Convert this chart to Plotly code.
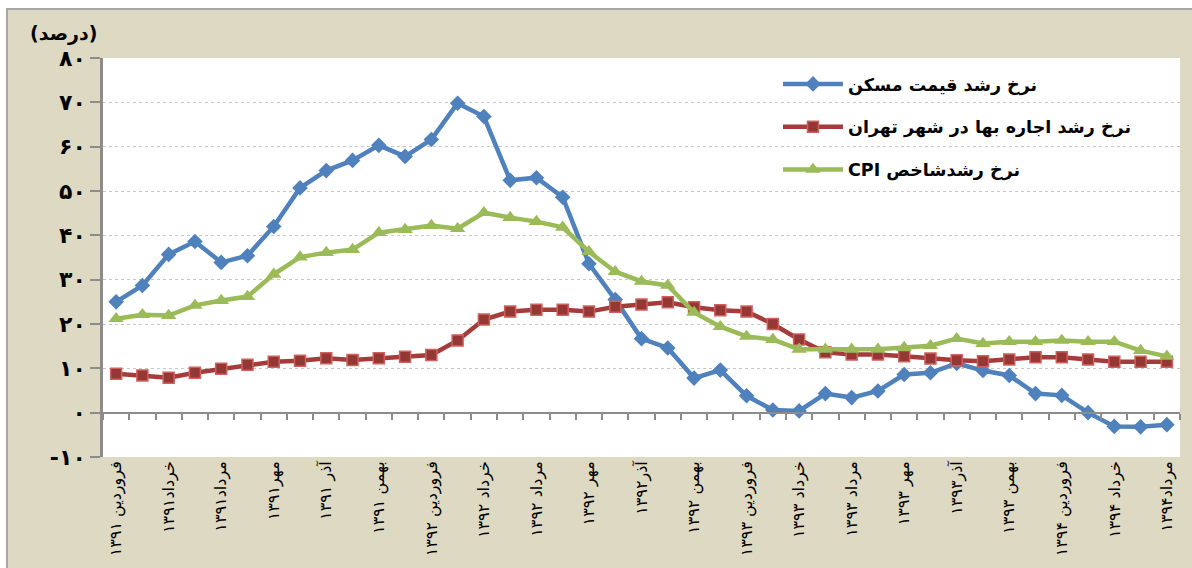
import plotly.graph_objects as go

# ---------------- data ----------------
months = [
    "فروردین ۱۳۹۱", "اردیبهشت ۱۳۹۱", "خرداد ۱۳۹۱", "تیر ۱۳۹۱", "مرداد ۱۳۹۱", "شهریور ۱۳۹۱",
    "مهر ۱۳۹۱", "آبان ۱۳۹۱", "آذر ۱۳۹۱", "دی ۱۳۹۱", "بهمن ۱۳۹۱", "اسفند ۱۳۹۱",
    "فروردین ۱۳۹۲", "اردیبهشت ۱۳۹۲", "خرداد ۱۳۹۲", "تیر ۱۳۹۲", "مرداد ۱۳۹۲", "شهریور ۱۳۹۲",
    "مهر ۱۳۹۲", "آبان ۱۳۹۲", "آذر ۱۳۹۲", "دی ۱۳۹۲", "بهمن ۱۳۹۲", "اسفند ۱۳۹۲",
    "فروردین ۱۳۹۳", "اردیبهشت ۱۳۹۳", "خرداد ۱۳۹۳", "تیر ۱۳۹۳", "مرداد ۱۳۹۳", "شهریور ۱۳۹۳",
    "مهر ۱۳۹۳", "آبان ۱۳۹۳", "آذر ۱۳۹۳", "دی ۱۳۹۳", "بهمن ۱۳۹۳", "اسفند ۱۳۹۳",
    "فروردین ۱۳۹۴", "اردیبهشت ۱۳۹۴", "خرداد ۱۳۹۴", "تیر ۱۳۹۴", "مرداد ۱۳۹۴",
]

tick_labels = [
    "فروردین ۱۳۹۱", "خرداد۱۳۹۱", "مرداد۱۳۹۱", "مهر۱۳۹۱", "آذر ۱۳۹۱", "بهمن ۱۳۹۱",
    "فروردین ۱۳۹۲", "خرداد ۱۳۹۲", "مرداد ۱۳۹۲", "مهر ۱۳۹۲", "آذر۱۳۹۲", "بهمن ۱۳۹۲",
    "فروردین ۱۳۹۳", "خرداد ۱۳۹۳", "مرداد ۱۳۹۳", "مهر ۱۳۹۳", "آذر۱۳۹۳", "بهمن ۱۳۹۳",
    "فروردین ۱۳۹۴", "خرداد ۱۳۹۴", "مرداد۱۳۹۴",
]

housing_price_growth = [
    25.0, 28.7, 35.7, 38.6, 33.9, 35.4, 42.0, 50.7, 54.6, 56.9, 60.3, 57.8,
    61.6, 69.8, 66.8, 52.4, 53.0, 48.6, 33.6, 25.5, 16.7, 14.6, 7.8, 9.6,
    3.8, 0.6, 0.4, 4.3, 3.4, 4.9, 8.6, 9.0, 11.1, 9.5, 8.4, 4.3,
    3.9, 0.0, -3.1, -3.2, -2.7,
]

tehran_rent_growth = [
    8.8, 8.4, 7.9, 9.0, 9.9, 10.8, 11.5, 11.7, 12.3, 11.9, 12.3, 12.6,
    13.0, 16.3, 21.0, 22.8, 23.2, 23.2, 22.8, 23.9, 24.4, 24.9, 23.8, 23.1,
    22.8, 20.0, 16.5, 13.6, 13.1, 13.1, 12.7, 12.2, 11.8, 11.6, 12.0, 12.5,
    12.5, 12.0, 11.5, 11.5, 11.5,
]

cpi_growth = [
    21.2, 22.1, 21.9, 24.2, 25.3, 26.2, 31.2, 35.1, 36.1, 36.8, 40.6, 41.3,
    42.2, 41.5, 45.1, 44.0, 43.1, 41.8, 36.3, 31.8, 29.6, 28.7, 22.6, 19.4,
    17.2, 16.5, 14.3, 14.3, 14.3, 14.3, 14.7, 15.1, 16.7, 15.6, 16.0, 16.0,
    16.3, 16.0, 16.0, 14.0, 12.7,
]

series_names = [
    "نرخ رشد قیمت مسکن",
    "نرخ رشد اجاره بها در شهر تهران",
    "\u202bنرخ رشدشاخص CPI\u202c",
]

y_tick_values = [-10, 0, 10, 20, 30, 40, 50, 60, 70, 80]
y_tick_text = ["-۱۰", "۰", "۱۰", "۲۰", "۳۰", "۴۰", "۵۰", "۶۰", "۷۰", "۸۰"]
y_title = "(درصد)"

# ---------------- figure ----------------
W, H = 1192, 568
ML, MR, MT, MB = 103, 12, 58, 111
PW, PH = W - ML - MR, H - MT - MB

def px_x(p):
    return (p - ML) / PW

def px_y(p):
    return (H - MB - p) / PH

x_idx = list(range(len(months)))
FONT = "DejaVu Sans"
BEIGE = "#DDD9C3"

fig = go.Figure()

fig.add_trace(go.Scatter(
    x=x_idx, y=housing_price_growth, name=series_names[0], mode="lines+markers",
    text=months, legendgroup="a",
    line=dict(color="#4F81BD", width=4.5),
    marker=dict(symbol="diamond", size=12, color="#4F81BD", line=dict(width=0)),
))
fig.add_trace(go.Scatter(
    x=x_idx, y=tehran_rent_growth, name=series_names[1], mode="lines+markers",
    text=months, legendgroup="b",
    line=dict(color="#A33C3A", width=4.5),
    marker=dict(symbol="square", size=11, color="#953735", line=dict(width=1.5, color="#D0605C")),
))
fig.add_trace(go.Scatter(
    x=x_idx, y=cpi_growth, name=series_names[2], mode="lines+markers",
    text=months, legendgroup="c",
    line=dict(color="#9BBB59", width=4.5),
    marker=dict(symbol="triangle-up", size=13.5, color="#9BBB59", line=dict(width=0)),
))
# carrier trace for the zero-line category axis
fig.add_trace(go.Scatter(x=[], y=[], xaxis="x2", yaxis="y", showlegend=False, hoverinfo="skip"))

fig.update_layout(
    width=W, height=H,
    margin=dict(l=ML, r=MR, t=MT, b=MB),
    paper_bgcolor=BEIGE,
    plot_bgcolor="white",
    showlegend=True,
    legend=dict(
        x=px_x(778), y=px_y(66), xanchor="left", yanchor="top",
        bgcolor="rgba(0,0,0,0)", borderwidth=0,
        font=dict(family=FONT, size=17.5, color="black", weight="bold"),
        tracegroupgap=17, itemwidth=60,
    ),
    xaxis=dict(
        range=[-0.5, len(months) - 0.5],
        tickvals=x_idx[::2], ticktext=tick_labels,
        tickangle=-90, ticks="", showgrid=False, zeroline=False, showline=False,
        tickfont=dict(family=FONT, size=16, color="black"),
    ),
    xaxis2=dict(
        overlaying="x", anchor="free", position=10 / 90,
        range=[-0.5, len(months) - 0.5],
        tickvals=[i - 0.5 for i in range(len(months) + 1)],
        showticklabels=False, ticks="outside", ticklen=6, tickwidth=2, tickcolor="#8C8C8C",
        showline=True, linecolor="#8C8C8C", linewidth=2, showgrid=False, zeroline=False,
    ),
    yaxis=dict(
        range=[-10, 80], tickvals=y_tick_values, ticktext=y_tick_text,
        showgrid=True, gridcolor="#C8C8C8", griddash="dot", gridwidth=1,
        zeroline=False, showline=True, linecolor="#8C8C8C", linewidth=2.5,
        ticks="outside", ticklen=10, tickwidth=2, tickcolor="#8C8C8C",
        tickfont=dict(family=FONT, size=22, color="black", weight="bold"),
    ),
    shapes=[
        # white strips outside the chart frame
        dict(type="rect", xref="paper", yref="paper", x0=px_x(-5), x1=px_x(7), y0=px_y(600), y1=px_y(-5),
             fillcolor="white", line=dict(width=0), layer="below"),
        dict(type="rect", xref="paper", yref="paper", x0=px_x(-5), x1=px_x(1200), y0=px_y(9), y1=px_y(-5),
             fillcolor="white", line=dict(width=0), layer="below"),
        # frame border
        dict(type="rect", xref="paper", yref="paper", x0=px_x(7), x1=px_x(1300), y0=px_y(700), y1=px_y(9),
             fillcolor="rgba(0,0,0,0)", line=dict(width=2, color="#A6A6A6"), layer="below"),
    ],
    annotations=[
        dict(text=y_title, xref="paper", yref="paper", x=px_x(63), y=px_y(33),
             xanchor="center", yanchor="middle", showarrow=False,
             font=dict(family=FONT, size=19, color="black", weight="bold")),
    ],
)

fig.write_html(
    "out.html",
    config={"displayModeBar": False},
    post_script="document.body.style.margin='0';document.body.style.overflow='hidden';",
)
